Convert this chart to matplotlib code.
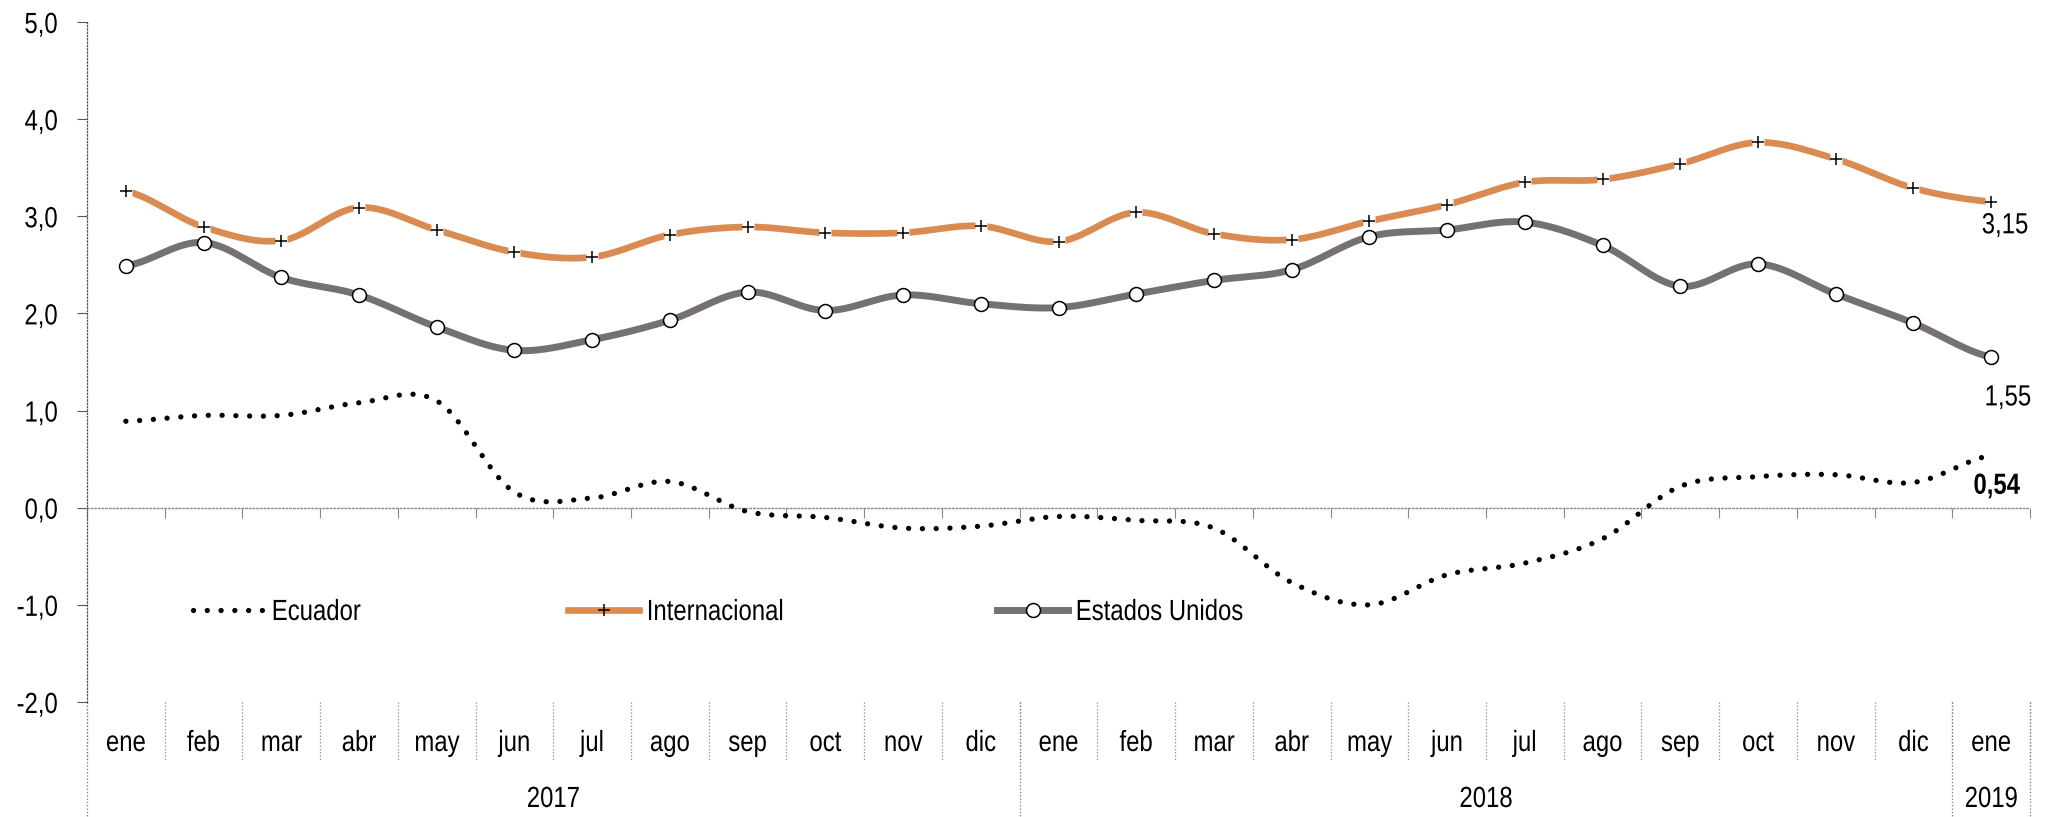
import numpy as np
import matplotlib
matplotlib.use("Agg")
import matplotlib.pyplot as plt
from matplotlib import font_manager as fm
from matplotlib.lines import Line2D
from matplotlib.path import Path
from matplotlib.patheffects import AbstractPathEffect
from matplotlib.transforms import Affine2D, blended_transform_factory

# ---------------- data ----------------
months = ["ene", "feb", "mar", "abr", "may", "jun", "jul", "ago", "sep", "oct", "nov", "dic",
          "ene", "feb", "mar", "abr", "may", "jun", "jul", "ago", "sep", "oct", "nov", "dic",
          "ene"]
years = ["2017", "2018", "2019"]
year_first = [0, 12, 24]
year_last = [11, 23, 24]

ecuador = [0.89, 0.95, 0.95, 1.08, 1.10, 0.16, 0.10, 0.27, -0.04, -0.10, -0.21, -0.19,
           -0.09, -0.13, -0.21, -0.77, -1.00, -0.69, -0.57, -0.32, 0.22, 0.32, 0.34, 0.26,
           0.54]
internacional = [3.26, 2.89, 2.75, 3.09, 2.86, 2.63, 2.58, 2.81, 2.89, 2.83, 2.83, 2.90,
                 2.74, 3.04, 2.82, 2.76, 2.95, 3.12, 3.35, 3.38, 3.54, 3.76, 3.59, 3.29,
                 3.15]
eeuu = [2.49, 2.73, 2.37, 2.19, 1.86, 1.62, 1.73, 1.93, 2.22, 2.03, 2.19, 2.10,
        2.06, 2.20, 2.34, 2.45, 2.79, 2.86, 2.94, 2.70, 2.28, 2.51, 2.20, 1.90,
        1.55]
series_names = ["Ecuador", "Internacional", "Estados Unidos"]
yticks = [-2, -1, 0, 1, 2, 3, 4, 5]

# ---------------- fonts ----------------
names = {f.name for f in fm.fontManager.ttflist}
if "Liberation Sans Narrow" in names:
    FONT, SX = "Liberation Sans Narrow", 1.0
else:
    FONT, SX = "Liberation Sans", 0.82   # emulate Arial Narrow by horizontal compression
FS = 21
plt.rcParams["font.family"] = [FONT, "DejaVu Sans"]


class Narrow(AbstractPathEffect):
    """Compress text glyphs horizontally about a chosen anchor."""

    def __init__(self, sx, anchor="left"):
        super().__init__()
        self.sx = sx
        self.anchor = anchor

    def draw_path(self, renderer, gc, tpath, affine, rgbFace=None):
        v = tpath.vertices
        if tpath.codes is not None:
            keep = tpath.codes != Path.CLOSEPOLY
            v = v[keep]
        if len(v):
            x0, x1 = float(np.min(v[:, 0])), float(np.max(v[:, 0]))
        else:
            x0 = x1 = 0.0
        if self.anchor == "center":
            cx = (x0 + x1) / 2
        elif self.anchor == "right":
            cx = x1
        else:
            cx = 0.0
        pre = Affine2D().translate(-cx, 0).scale(self.sx, 1).translate(cx, 0)
        renderer.draw_path(gc, tpath, pre + affine, rgbFace)


def narrow(txt, anchor):
    if SX != 1.0:
        txt.set_path_effects([Narrow(SX, anchor)])
    return txt


ORANGE = "#D98B52"
GREY = "#767171"


def smooth(vals, n=30):
    """Excel-like smoothed line (Catmull-Rom through the data points)."""
    y = np.asarray(vals, float)
    p = np.concatenate([[y[0]], y, [y[-1]]])
    t = np.linspace(0, 1, n, endpoint=False)
    h00 = 2 * t**3 - 3 * t**2 + 1
    h10 = t**3 - 2 * t**2 + t
    h01 = -2 * t**3 + 3 * t**2
    h11 = t**3 - t**2
    xs, ys = [], []
    for i in range(len(y) - 1):
        m1 = (p[i + 2] - p[i]) / 2
        m2 = (p[i + 3] - p[i + 1]) / 2
        ys.append(h00 * p[i + 1] + h10 * m1 + h01 * p[i + 2] + h11 * m2)
        xs.append(i + t)
    xs.append([len(y) - 1])
    ys.append([y[-1]])
    return np.concatenate(xs), np.concatenate(ys)


W, H = 2051, 817
fig = plt.figure(figsize=(W / 100, H / 100), dpi=100)
ax_left, ax_right, ax_top, ax_bot = 87, 2030, 22, 702
ax = fig.add_axes([ax_left / W, 1 - ax_bot / H, (ax_right - ax_left) / W, (ax_bot - ax_top) / H])
ax_h = ax_bot - ax_top

x = np.arange(len(months))

DOT_LW = 3.8
DOT_STYLE = (0, (0.01, 2.6))

# Ecuador (dotted)
sx, sy = smooth(ecuador)
ax.plot(sx, sy, color="black", lw=DOT_LW, linestyle=DOT_STYLE,
        dash_capstyle="round", zorder=3)

# Internacional
sx, sy = smooth(internacional)
ax.plot(sx, sy, color=ORANGE, lw=4.8, solid_capstyle="butt", zorder=3)
ax.plot(x, internacional, ls="none", marker="s", ms=8, mfc="white", mec="none", zorder=4)
ax.plot(x, internacional, ls="none", marker="+", ms=9, mec="black", mew=1.1, zorder=5)

# Estados Unidos
sx, sy = smooth(eeuu)
ax.plot(sx, sy, color=GREY, lw=5.0, solid_capstyle="butt", zorder=3)
ax.plot(x, eeuu, ls="none", marker="o", ms=10, mfc="white", mec="black", mew=1.1, zorder=5)

# axes
ax.set_xlim(-0.5, len(months) - 0.5)
ax.set_ylim(yticks[0], yticks[-1])
ax.set_yticks(yticks)
ylabels = ax.set_yticklabels([f"{v:.1f}".replace(".", ",") for v in yticks])
for t in ylabels:
    narrow(t, "right")
ax.tick_params(axis="y", direction="out", length=7, width=0.8, color="#555555",
               pad=14, labelsize=FS)
ax.spines["left"].set_linestyle(":")
ax.spines["left"].set_color("#555555")
ax.spines["left"].set_linewidth(0.9)
ax.spines["top"].set_visible(False)
ax.spines["right"].set_visible(False)
ax.spines["bottom"].set_position(("data", 0))
ax.spines["bottom"].set_linestyle(":")
ax.spines["bottom"].set_color("#888888")
ax.spines["bottom"].set_linewidth(1.0)
bounds = np.arange(-0.5, len(months), 1.0)
ax.set_xticks(bounds)
ax.tick_params(axis="x", direction="out", length=7, width=0.8, color="#888888",
               labelbottom=False)

trans = blended_transform_factory(ax.transData, ax.transAxes)
# month separators and labels
ax.vlines(bounds, 0, -58 / ax_h, transform=trans, clip_on=False,
          colors="#888888", linestyles=":", lw=0.9)
for i, m in enumerate(months):
    narrow(ax.text(i, -41 / ax_h, m, transform=trans, ha="center", va="center",
                   fontsize=FS), "center")
# year separators and labels
ybounds = [year_first[0] - 0.5] + [l + 0.5 for l in year_last]
ax.vlines(ybounds, 0, -(H - ax_bot) / ax_h, transform=trans, clip_on=False,
          colors="#777777", linestyles=":", lw=0.9)
for yname, f, l in zip(years, year_first, year_last):
    narrow(ax.text((f + l) / 2, -97 / ax_h, yname, transform=trans, ha="center",
                   va="center", fontsize=FS), "center")

# end labels
last = len(months) - 1
narrow(ax.annotate(f"{internacional[-1]:.2f}".replace(".", ","), xy=(last, internacional[-1]),
                   xytext=(10, -17), textcoords="offset points", ha="center", va="center",
                   fontsize=FS), "center")
narrow(ax.annotate(f"{eeuu[-1]:.2f}".replace(".", ","), xy=(last, eeuu[-1]),
                   xytext=(12, -29), textcoords="offset points", ha="center", va="center",
                   fontsize=FS), "center")
narrow(ax.annotate(f"{ecuador[-1]:.2f}".replace(".", ","), xy=(last, ecuador[-1]),
                   xytext=(4, -22), textcoords="offset points", ha="center", va="center",
                   fontsize=FS, fontweight="bold"), "center")

# legend: one entry per legend, each anchored at its own position
handles = [
    Line2D([], [], color="black", lw=DOT_LW, linestyle=DOT_STYLE, dash_capstyle="round"),
    Line2D([], [], color=ORANGE, lw=4.8, marker="+", ms=9, mec="black", mew=1.1),
    Line2D([], [], color=GREY, lw=5.0, marker="o", ms=10, mfc="white", mec="black", mew=1.1),
]
legend_x = [193, 568, 997]
for h, name, lx in zip(handles, series_names, legend_x):
    leg = fig.legend([h], [name], loc="center left",
                     bbox_to_anchor=(lx / W, 1 - 612 / H), frameon=False, fontsize=FS,
                     handlelength=2.45, handletextpad=0.25, borderpad=0,
                     borderaxespad=0, numpoints=1)
    for t in leg.get_texts():
        narrow(t, "left")

fig.savefig("out.png", dpi=100)
